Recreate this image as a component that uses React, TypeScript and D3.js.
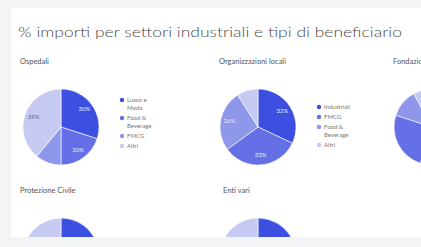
import React, { useEffect, useRef } from 'react';
import * as d3 from 'd3';

const title = '% importi per settori industriali e tipi di beneficiario';

const panelTitles = ['Ospedali', 'Organizzazioni locali', 'Fondazioni', 'Protezione Civile', 'Enti vari'];

const legend1 = [['Lusso e', 'Moda'], ['Food &', 'Beverage'], ['FMCG'], ['Altri']];
const legend2 = [['Industriali'], ['FMCG'], ['Food &', 'Beverage'], ['Altri']];

const values1 = [30, 20, 11, 39];
const values2 = [32, 33, 26, 9];
const values3 = [55, 25, 12, 8];
const values4 = [28, 22, 24, 26];
const values5 = [35, 20, 25, 20];

const colors = ['#3d4fe0', '#6570e6', '#8f97ea', '#c6c9f1'];

function App() {
  const ref = useRef<SVGSVGElement>(null);

  useEffect(() => {
    const svg = d3.select(ref.current);
    svg.selectAll('*').remove();

    svg.append('rect').attr('width', 421).attr('height', 247).attr('fill', '#f3f4f6');
    svg.append('rect').attr('x', 11).attr('y', 8).attr('width', 420).attr('height', 229).attr('fill', '#ffffff');

    svg.append('text').attr('x', 18).attr('y', 37).attr('font-size', 14.5)
      .attr('fill', '#4a4a4a').attr('font-weight', 300).attr('font-family', 'Lato, sans-serif')
      .attr('textLength', 384).attr('lengthAdjust', 'spacingAndGlyphs').text(title);

    const pie = d3.pie<number>().sort(null).value((d) => d);
    const arc = d3.arc<d3.PieArcDatum<number>>().innerRadius(0).outerRadius(38);
    const labelArc = d3.arc<d3.PieArcDatum<number>>().innerRadius(20).outerRadius(38);

    const panels = [
      { cx: 61, cy: 127, tx: 20, ty: 64, values: values1, legend: legend1, lx: 122, ly: 100 },
      { cx: 258, cy: 127, tx: 219, ty: 64, values: values2, legend: legend2, lx: 319, ly: 107 },
      { cx: 432, cy: 127, tx: 393, ty: 64, values: values3, legend: null, lx: 0, ly: 0 },
      { cx: 61, cy: 256, tx: 20, ty: 193, values: values4, legend: null, lx: 0, ly: 0 },
      { cx: 258, cy: 256, tx: 223, ty: 193, values: values5, legend: null, lx: 0, ly: 0 },
    ];

    const clip = svg.append('defs').append('clipPath').attr('id', 'card');
    clip.append('rect').attr('x', 11).attr('y', 8).attr('width', 420).attr('height', 229);
    const body = svg.append('g').attr('clip-path', 'url(#card)');

    panels.forEach((p, i) => {
      body.append('text').attr('x', p.tx).attr('y', p.ty).attr('font-size', 7.5)
        .attr('fill', '#555').attr('font-family', 'Lato, sans-serif').text(panelTitles[i]);

      const g = body.append('g').attr('transform', `translate(${p.cx}, ${p.cy})`);
      const arcs = pie(p.values);
      g.selectAll('path').data(arcs).join('path')
        .attr('d', arc).attr('fill', (d, j) => colors[j])
        .attr('stroke', '#ffffff').attr('stroke-width', 0.6);

      // only label slices whose label sits fully inside the card
      const shown = arcs.filter((d) => {
        const c = labelArc.centroid(d);
        return d.data >= 20 && p.cx + c[0] < 405 && p.cy + c[1] < 228;
      });
      g.selectAll('text').data(shown).join('text')
        .attr('transform', (d) => {
          const c = labelArc.centroid(d);
          return `translate(${c[0]}, ${c[1]})`;
        })
        .attr('text-anchor', 'middle').attr('dominant-baseline', 'middle')
        .attr('font-size', 6).attr('font-family', 'Lato, sans-serif')
        .attr('fill', (d) => (d.index === 3 ? '#6a6a8a' : '#e8eaff'))
        .text((d) => `${d.data}%`);

      if (p.legend) {
        let y = p.ly;
        p.legend.forEach((lines, j) => {
          body.append('circle').attr('cx', p.lx).attr('cy', y).attr('r', 2.2).attr('fill', colors[j]);
          lines.forEach((line, k) => {
            body.append('text').attr('x', p.lx + 5).attr('y', y + k * 8.5).attr('dominant-baseline', 'middle')
              .attr('font-size', 6).attr('fill', '#777').attr('font-family', 'Lato, sans-serif').text(line);
          });
          y += lines.length > 1 ? 18 : 10;
        });
      }
    });
  }, []);

  return (
    <svg ref={ref} width={421} height={247} style={{ position: 'fixed', left: 0, top: 0 }} />
  );
}

export default App;
